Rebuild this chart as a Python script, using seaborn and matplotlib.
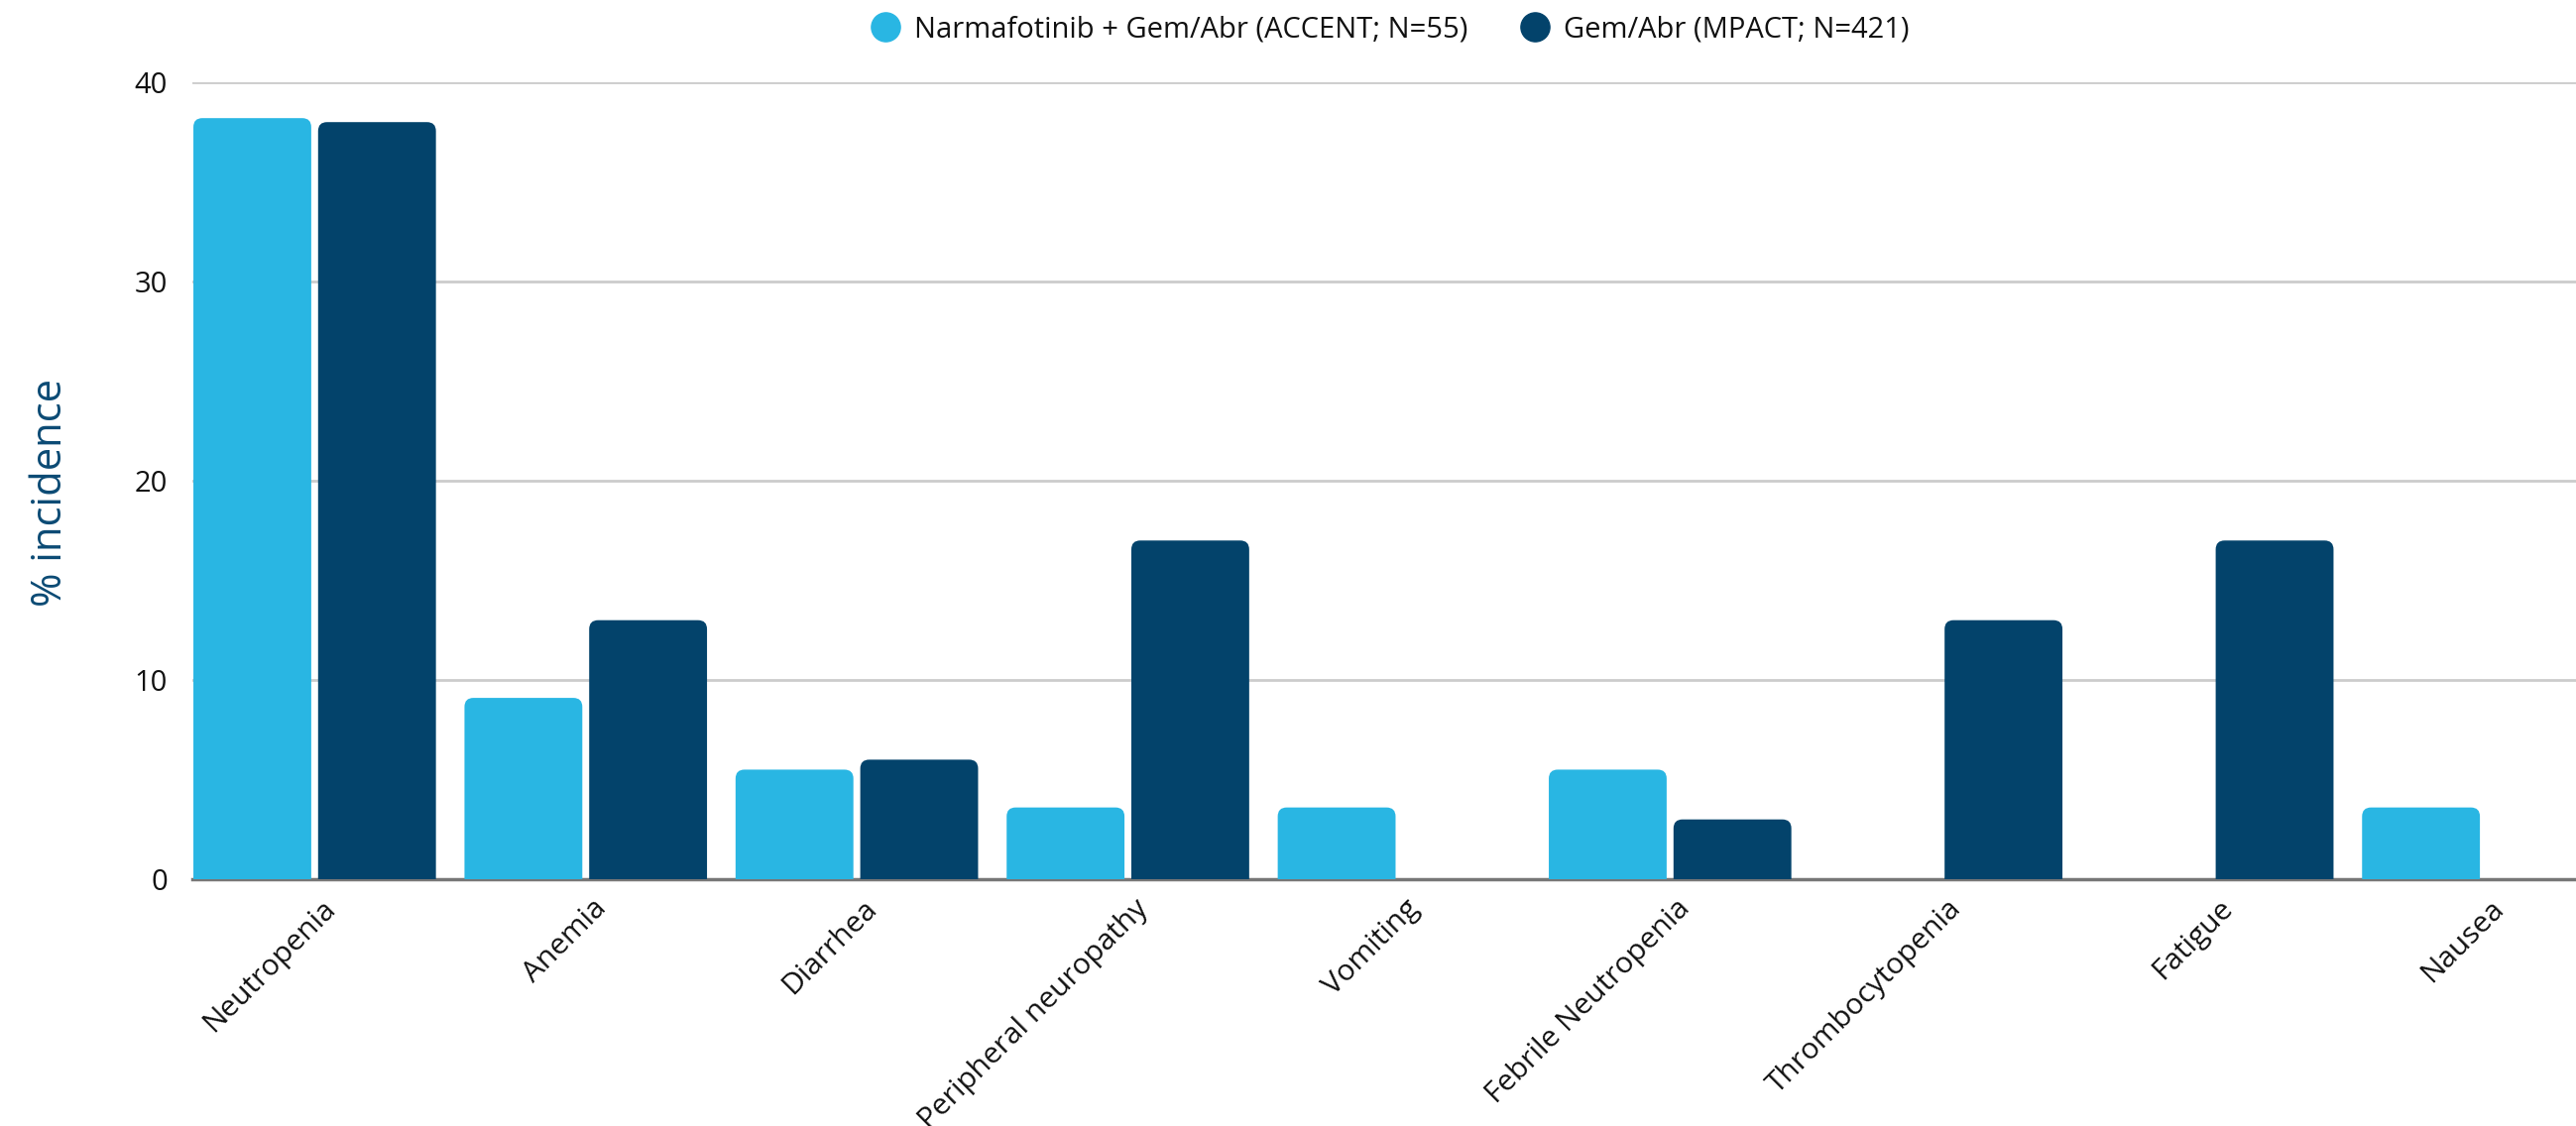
import numpy as np
import pandas as pd
import matplotlib
matplotlib.use("Agg")
import matplotlib.pyplot as plt
import matplotlib.transforms as mtransforms
from matplotlib.patches import FancyBboxPatch
from matplotlib.lines import Line2D
import seaborn as sns

# ---------------- data ----------------
categories = ["Neutropenia", "Anemia", "Diarrhea", "Peripheral neuropathy", "Vomiting",
              "Febrile Neutropenia", "Thrombocytopenia", "Fatigue", "Nausea"]
series_names = ["Narmafotinib + Gem/Abr (ACCENT; N=55)", "Gem/Abr (MPACT; N=421)"]
accent_values = [38.2, 9.1, 5.5, 3.6, 3.6, 5.5, 0.0, 0.0, 3.6]
mpact_values = [38.0, 13.0, 6.0, 17.0, 0.0, 3.0, 13.0, 17.0, 0.0]
y_ticks = [0, 10, 20, 30, 40]
y_label = "% incidence"
colors = ["#29B6E3", "#03436B"]

df = pd.DataFrame({
    "AE": categories * 2,
    "Group": [series_names[0]] * len(categories) + [series_names[1]] * len(categories),
    "Incidence": accent_values + mpact_values,
})

# ---------------- style ----------------
sns.set_theme(style="white")
plt.rcParams["font.family"] = ["Open Sans", "DejaVu Sans"]

W, H = 2598, 1136
fig = plt.figure(figsize=(W / 100, H / 100), dpi=100)
ax_left, ax_right, ax_top, ax_bottom = 194, 2598, 83, 887
ax = fig.add_axes([ax_left / W, 1 - ax_bottom / H, (ax_right - ax_left) / W, (ax_bottom - ax_top) / H])

sns.barplot(data=df, x="AE", y="Incidence", hue="Group", order=categories, hue_order=series_names,
            palette=colors, saturation=1, width=0.92, gap=0.055, ax=ax, legend=False)

ax.set_ylim(0, 40)
x0 = -0.4475 - 1 / 273.4
ax.set_xlim(x0, x0 + (ax_right - ax_left) / 273.4)
ax.set_yticks(y_ticks)

# ---------------- rounded bar tops ----------------
px_x = ax.transData.transform((1, 0))[0] - ax.transData.transform((0, 0))[0]
px_y = ax.transData.transform((0, 1))[1] - ax.transData.transform((0, 0))[1]
r_px = 9.0
rx, ry = r_px / px_x, r_px / px_y
bars = list(ax.patches)
for p in bars:
    x, y = p.get_x(), p.get_y()
    w, h = p.get_width(), p.get_height()
    fc = p.get_facecolor()
    p.remove()
    if h <= 0:
        continue
    fb = FancyBboxPatch((x, y - ry), w, h + ry,
                        boxstyle=f"round,pad=0,rounding_size={rx}",
                        mutation_aspect=ry / rx, facecolor=fc, edgecolor="none",
                        linewidth=0, zorder=2)
    ax.add_patch(fb)

# ---------------- axes styling ----------------
ax.set_axisbelow(True)
ax.yaxis.grid(True, color="#CCCCCC", linewidth=2)
ax.xaxis.grid(False)
for s in ["top", "right", "left"]:
    ax.spines[s].set_visible(False)
ax.spines["bottom"].set_color("#777777")
ax.spines["bottom"].set_linewidth(2.5)
ax.spines["bottom"].set_zorder(1.5)

ax.tick_params(axis="y", length=0, labelsize=21, pad=18, labelcolor="#111111")
ax.tick_params(axis="x", length=0, labelsize=21.5, pad=10.8, labelcolor="#111111")
ax.set_xlabel("")
for lbl in ax.get_xticklabels():
    lbl.set_rotation(45)
    lbl.set_ha("right")
    lbl.set_va("top")
    lbl.set_rotation_mode("anchor")
    lbl.set_transform(lbl.get_transform() + mtransforms.ScaledTranslation(6 / 100, 0, fig.dpi_scale_trans))

ax.set_ylabel(y_label, fontsize=30, color="#0B4A74")
ax.yaxis.set_label_coords((72 - ax_left) / (ax_right - ax_left), (ax_bottom - 497) / (ax_bottom - ax_top))

# ---------------- legend ----------------
handles = [Line2D([], [], marker="o", linestyle="", markersize=21,
                  markerfacecolor=c, markeredgecolor=c) for c in colors]
ax.legend(handles, series_names, loc="center",
          bbox_to_anchor=((1402 - ax_left) / (ax_right - ax_left), (ax_bottom - 30) / (ax_bottom - ax_top)),
          ncol=2, frameon=False, fontsize=21, handlelength=1.0, handletextpad=0.5,
          columnspacing=1.8, borderpad=0, borderaxespad=0, labelcolor="#111111")

fig.savefig("out.png", dpi=100)
